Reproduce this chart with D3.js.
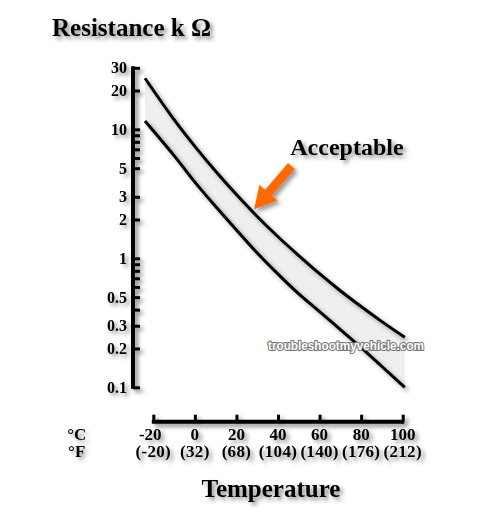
<!DOCTYPE html>
<html><head><meta charset="utf-8">
<script src="https://cdn.jsdelivr.net/npm/d3@7"></script>
<style>html,body{margin:0;padding:0;background:#fff;}svg{display:block;}</style>
</head><body>
<script>
// ---- data ----
const tempsC = [-24, -10, 0, 10, 20, 30, 40, 50, 60, 70, 80, 90, 101];
const upperK = [24.9, 11.9, 7.38, 4.73, 3.12, 2.11, 1.47, 1.05, 0.76, 0.561, 0.423, 0.323, 0.244];
const lowerK = [11.6, 6.25, 3.9, 2.52, 1.66, 1.10, 0.755, 0.53, 0.386, 0.28, 0.203, 0.145, 0.10];
const xTicksC = [-20, 0, 20, 40, 60, 80, 100];
const xTickLabelsF = ["(-20)", "(32)", "(68)", "(104)", "(140)", "(176)", "(212)"];
const yTicks = [30, 20, 10, 9, 8, 7, 6, 5, 3, 2, 1, 0.9, 0.8, 0.7, 0.6, 0.5, 0.4, 0.3, 0.2, 0.1];
const yTickLabels = [30, 20, 10, 5, 3, 2, 1, 0.5, 0.3, 0.2, 0.1];
const annotation = {label: "Acceptable", labelT: 45.9, labelR: 6.3, tailT: 46.5, tailR: 5.2, tipT: 28.5, tipR: 2.4};

const W = 500, H = 516;
const svg = d3.select("body").append("svg").attr("width", W).attr("height", H);
const defs = svg.append("defs");
const f1 = defs.append("filter").attr("id", "sh").attr("x", "-20%").attr("y", "-40%").attr("width", "160%").attr("height", "200%");
f1.append("feDropShadow").attr("dx", 3).attr("dy", 3).attr("stdDeviation", 2).attr("flood-color", "#000").attr("flood-opacity", 0.45);
const f2 = defs.append("filter").attr("id", "lsh").attr("x", "-20%").attr("y", "-20%").attr("width", "140%").attr("height", "140%");
f2.append("feDropShadow").attr("dx", 3).attr("dy", 3).attr("stdDeviation", 2).attr("flood-color", "#000").attr("flood-opacity", 0.4);

const x = d3.scaleLinear().domain([-20, 100]).range([153.3, 402.7]);
const y = d3.scaleLog().domain([0.1, 30]).range([387.3, 67.8]);

const serif = "'Liberation Serif','Times New Roman',serif";
const pts = tempsC.map((t, i) => ({t, u: upperK[i], l: lowerK[i]}));
const crv = d3.curveCatmullRom.alpha(0.5);

// band
const area = d3.area().x(d => x(d.t)).y0(d => y(d.l)).y1(d => y(d.u)).curve(crv);
svg.append("path").datum(pts).attr("d", area).attr("fill", "#efefef");

const lineU = d3.line().x(d => x(d.t)).y(d => y(d.u)).curve(crv);
const lineL = d3.line().x(d => x(d.t)).y(d => y(d.l)).curve(crv);
const lines = svg.append("g").attr("filter", "url(#lsh)");
lines.append("path").datum(pts).attr("d", lineU).attr("fill", "none").attr("stroke", "#000").attr("stroke-width", 3);
lines.append("path").datum(pts).attr("d", lineL).attr("fill", "none").attr("stroke", "#000").attr("stroke-width", 3);

// y axis
const yAxisG = svg.append("g").attr("transform", `translate(${133},0)`).attr("filter", "url(#sh)");
const yAxis = d3.axisRight(y).tickValues(yTicks).tickSize(7).tickFormat("");
yAxisG.call(yAxis);
yAxisG.select(".domain").remove();
yAxisG.selectAll(".tick line").attr("stroke", "#000").attr("stroke-width", 3);
yAxisG.append("line").attr("x1", 0).attr("x2", 0).attr("y1", y(30) - 1.5).attr("y2", y(0.1) + 1.5)
  .attr("stroke", "#000").attr("stroke-width", 4);
yAxisG.selectAll(".ylab").data(yTickLabels).enter().append("text").attr("class", "ylab")
  .attr("x", -6).attr("y", d => y(d)).attr("dy", "0.35em").attr("text-anchor", "end").attr("fill", "#000")
  .attr("font-family", serif).attr("font-weight", "bold").attr("font-size", 16)
  .text(d => d);

// x axis
const xAxisG = svg.append("g").attr("transform", `translate(0,${421.7})`).attr("filter", "url(#sh)");
const xAxis = d3.axisTop(x).tickValues(xTicksC).tickSize(7).tickFormat("");
xAxisG.call(xAxis);
xAxisG.select(".domain").remove();
xAxisG.selectAll(".tick line").attr("stroke", "#000").attr("stroke-width", 3);
xAxisG.append("line").attr("x1", x(-20) - 1.5).attr("x2", x(100) + 1.5).attr("y1", 0).attr("y2", 0)
  .attr("stroke", "#000").attr("stroke-width", 4);
const xl = xAxisG.append("g").attr("fill", "#000").attr("font-family", serif).attr("font-weight", "bold")
  .attr("font-size", 17).attr("text-anchor", "middle");
xl.selectAll(".xc").data(xTicksC).enter().append("text").attr("class", "xc")
  .attr("x", d => x(d) - (d < 0 ? 3 : 0)).attr("y", 18).text(d => d);
xl.selectAll(".xf").data(xTicksC).enter().append("text").attr("class", "xf")
  .attr("x", d => x(d)).attr("y", 35.5).attr("letter-spacing", 0.3).text((d, i) => xTickLabelsF[i]);
xl.append("text").attr("x", 76.7).attr("y", 18).text("°C");
xl.append("text").attr("x", 76.7).attr("y", 35.5).text("°F");

// titles
svg.append("text").attr("x", 52).attr("y", 35.5).attr("font-family", serif).attr("font-weight", "bold")
  .attr("font-size", 25).attr("filter", "url(#sh)").text("Resistance k Ω");
svg.append("text").attr("x", 271).attr("y", 497).attr("text-anchor", "middle").attr("font-family", serif)
  .attr("font-weight", "bold").attr("font-size", 25).attr("filter", "url(#sh)").text("Temperature");

// annotation
svg.append("text").attr("x", x(annotation.labelT)).attr("y", y(annotation.labelR)).attr("font-family", serif)
  .attr("font-weight", "bold").attr("font-size", 24).attr("filter", "url(#sh)").text(annotation.label);
(function () {
  const x0 = x(annotation.tailT), y0 = y(annotation.tailR), x1 = x(annotation.tipT), y1 = y(annotation.tipR);
  const dx = x1 - x0, dy = y1 - y0, L = Math.hypot(dx, dy);
  const ux = dx / L, uy = dy / L, px = -uy, py = ux;
  const hw = 4.5, headL = 22, headW = 12;
  const bx = x1 - ux * headL, by = y1 - uy * headL;
  const poly = [
    [x0 + px * hw, y0 + py * hw], [bx + px * hw, by + py * hw], [bx + px * headW, by + py * headW],
    [x1, y1], [bx - px * headW, by - py * headW], [bx - px * hw, by - py * hw], [x0 - px * hw, y0 - py * hw]
  ];
  svg.append("path").attr("d", "M" + poly.map(p => p.join(",")).join("L") + "Z")
    .attr("fill", "#ff6a00").attr("filter", "url(#lsh)");
})();

// watermark
svg.append("text").attr("x", 346).attr("y", 350).attr("text-anchor", "middle")
  .attr("font-family", "'Liberation Sans Narrow','Arial Narrow','Liberation Sans',sans-serif")
  .attr("font-weight", "bold").attr("font-size", 13).attr("textLength", 156).attr("lengthAdjust", "spacingAndGlyphs")
  .attr("fill", "#fff").attr("stroke", "#777").attr("stroke-width", 2.2).attr("paint-order", "stroke")
  .text("troubleshootmyvehicle.com");
</script>
</body></html>
